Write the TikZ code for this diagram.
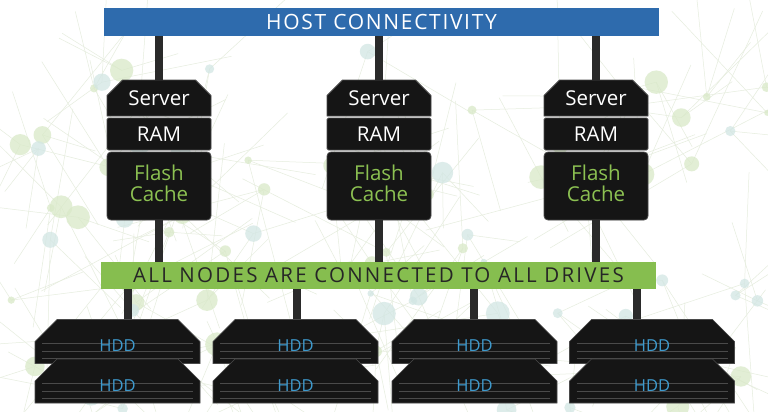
\documentclass[tikz,border=0pt]{standalone}
\usepackage{fontspec}
\setmainfont{Open Sans}
\usetikzlibrary{shapes.misc}
\definecolor{hostblue}{HTML}{2E6BAD}
\definecolor{allgreen}{HTML}{86BE4F}
\definecolor{flashgreen}{HTML}{8CC152}
\definecolor{hddblue}{HTML}{3E9BCF}
\definecolor{boxblack}{HTML}{151515}
\definecolor{boxedge}{HTML}{4A4A4A}
\definecolor{wirecol}{HTML}{2A2A2A}
\definecolor{netline}{HTML}{E6EDDE}
\definecolor{netgreen}{HTML}{D9E9C8}
\definecolor{netteal}{HTML}{D2E6E4}
\newfontfamily\hostfont[LetterSpace=8]{Open Sans}
\newfontfamily\allfont[LetterSpace=11]{Open Sans}
\begin{document}
\begin{tikzpicture}[x=1pt,y=-1pt,
  hostbar/.style={fill=hostblue, minimum width=555pt, minimum height=28pt, inner sep=0pt,
    text=white, font=\hostfont\fontsize{21}{24}\selectfont},
  allbar/.style={fill=allgreen, minimum width=555pt, minimum height=27pt, inner sep=0pt,
    text=black!85, font=\allfont\fontsize{20.5}{23}\selectfont},
  srvsec/.style={fill=boxblack, draw=boxedge, line width=0.8pt, minimum width=104pt, inner sep=0pt,
    text=white, font=\fontsize{20.5}{23}\selectfont},
  srvtop/.style={srvsec, chamfered rectangle, chamfered rectangle corners={north west,north east},
    chamfered rectangle xsep=8pt, chamfered rectangle ysep=8pt, minimum height=36pt},
  srvram/.style={srvsec, rectangle, rounded corners=1.5pt, minimum height=32pt},
  srvflash/.style={srvsec, rectangle, rounded corners=4pt, minimum height=68pt, align=center,
    text=flashgreen, font=\fontsize{20.5}{22}\selectfont, text depth=6pt},
  hddbox/.style={fill=boxblack, draw=boxedge, line width=0.6pt, chamfered rectangle,
    chamfered rectangle corners={north west,north east},
    chamfered rectangle xsep=28pt, chamfered rectangle ysep=12pt,
    minimum width=165pt, minimum height=37pt, inner sep=0pt,
    text=hddblue, font=\fontsize{16.5}{18}\selectfont, text height=20pt, text depth=0pt,
    path picture={
      \foreach \s in {5,12,20}{
        \draw[boxedge, line width=1pt]
          ([xshift=7pt,yshift=\s pt]path picture bounding box.south west) --
          ([xshift=-7pt,yshift=\s pt]path picture bounding box.south east);
      }
    }},
  wire/.style={draw=wirecol, line width=8pt}
]
\useasboundingbox (0,0) rectangle (768,412);
\fill[white] (0,0) rectangle (768,412);

% background network
\begin{scope}
\clip (0,0) rectangle (768,412);
\pgfmathsetseed{4242}
\foreach \i in {1,...,95}{
  \pgfmathsetmacro\px{rnd*768}
  \pgfmathsetmacro\py{50+rnd*362}
  \pgfmathsetmacro\pr{3+rnd*9}
  \pgfmathsetmacro\pc{rnd}
  \foreach \j in {1,2,3}{
    \pgfmathsetmacro\ang{rnd*360}
    \pgfmathsetmacro\len{50+rnd*120}
    \draw[netline, line width=0.5pt] (\px,\py) -- ++(\ang:\len);
  }
}
\pgfmathsetseed{4242}
\foreach \i in {1,...,95}{
  \pgfmathsetmacro\px{rnd*768}
  \pgfmathsetmacro\py{50+rnd*362}
  \pgfmathsetmacro\pr{3+rnd*9}
  \pgfmathsetmacro\pc{rnd}
  \foreach \j in {1,2,3}{
    \pgfmathsetmacro\ang{rnd*360}
    \pgfmathsetmacro\len{50+rnd*120}
  }
  \pgfmathparse{\pc<0.5 ? 1 : 0}
  \ifnum\pgfmathresult=1
    \fill[netgreen, opacity=0.75] (\px,\py) circle[radius=\pr];
  \else
    \fill[netteal, opacity=0.75] (\px,\py) circle[radius=\pr];
  \fi
}
\end{scope}

% bars
\node[hostbar] (host) at (381.5,22) {HOST CONNECTIVITY};
\node[allbar] (all) at (378.5,275.5) {ALL NODES ARE CONNECTED TO ALL DRIVES};

% servers
\foreach \c/\n in {159/a,379/b,596/c}{
  \node[srvtop] (srv\n) at (\c,98) {Server};
  \node[srvram] (ram\n) at (\c,134) {RAM};
  \node[srvflash] (fc\n) at (\c,186) {Flash\\[-1pt]Cache};
}

% hdds
\foreach \c/\n in {117.5/1,295.5/2,474.5/3,652/4}{
  \node[hddbox] (hddt\n) at (\c,341.5) {HDD};
  \node[hddbox] (hddb\n) at (\c,381) {HDD};
}

% wires
\foreach \n in {a,b,c}{
  \draw[wire] (host.south -| srv\n.north) -- (srv\n.north);
  \draw[wire] (fc\n.south) -- (fc\n.south |- all.north);
}
\coordinate (d1) at (128,0);
\coordinate (d2) at (297,0);
\coordinate (d3) at (474,0);
\coordinate (d4) at (637,0);
\foreach \n in {1,2,3,4}{
  \draw[wire] (all.south -| d\n) -- (hddt\n.north -| d\n);
}
\end{tikzpicture}
\end{document}
